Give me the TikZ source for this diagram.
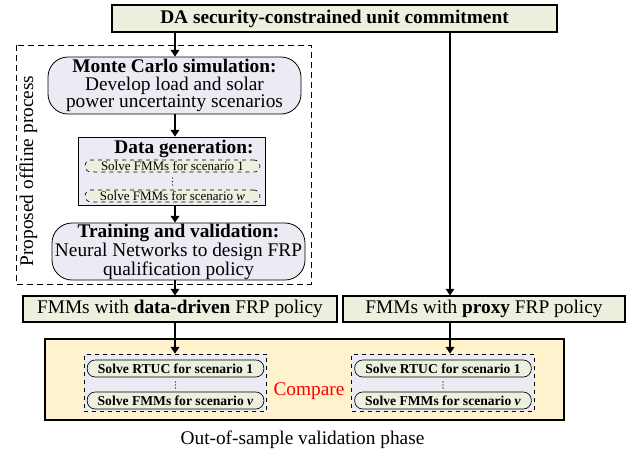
\documentclass[tikz,border=0pt]{standalone}
\usepackage{fontspec}
\setmainfont{Liberation Serif}
\usetikzlibrary{arrows.meta}
\definecolor{boxgreen}{HTML}{EBF1DE}
\definecolor{boxlav}{HTML}{ECEAF3}
\definecolor{boxorange}{HTML}{FFF2CC}

\begin{document}
\begin{tikzpicture}[x=0.75pt, y=-0.75pt, font=\fontsize{14.5}{13}\selectfont,
    greenbox/.style={draw, line width=0.8pt, fill=boxgreen, inner sep=0pt, minimum height=19.5pt},
    roundbox/.style={draw, line width=0.6pt, fill=boxlav, rounded corners=15pt, align=center,
        inner sep=0pt, minimum width=189.75pt, minimum height=42.75pt},
    scenbox/.style={draw, line width=0.5pt, fill=boxgreen, rounded corners=4.5pt, inner sep=0pt,
        minimum width=131.25pt, minimum height=9pt, font=\fontsize{9.75}{9}\selectfont},
    rtucbox/.style={draw, line width=0.5pt, fill=boxgreen, rounded corners=6pt, inner sep=0pt,
        minimum width=132.5pt, minimum height=12.75pt, font=\fontsize{10.2}{10}\selectfont\bfseries},
    setbox/.style={draw, dashed, line width=0.6pt, fill=boxlav, inner sep=0pt,
        minimum width=137pt, minimum height=42.75pt},
    flow/.style={line width=0.8pt, -{Triangle[width=6.5pt,length=5pt]}}]
    \useasboundingbox (0,0) rectangle (638,455);
    % day-ahead stage
    \node[greenbox, line width=1.1pt, minimum width=333.75pt, minimum height=20.25pt] (scuc) at (334.5,18.5)
        {\textbf{DA security-constrained unit commitment}};
    % offline process
    \draw[dashed, line width=0.7pt, dash pattern=on 4.5pt off 3pt] (16,45) rectangle (311,284);
    \node[rotate=90] (offline) at (28.5,171) {Proposed offline process};
    \node[roundbox] (mcs) at (174.5,85.5)
        {\textbf{Monte Carlo simulation:}\\Develop load and solar\\power uncertainty scenarios};
    \node[draw, line width=0.6pt, fill=boxlav, inner sep=0pt, minimum width=140.25pt, minimum height=51pt]
        (datagen) at (171.5,171) {};
    \node[inner sep=0pt] (datatitle) at (184,149) {\textbf{Data generation:}};
    \node[scenbox, dashed] (gen1) at (172.5,166) {Solve FMMs for scenario 1};
    \node[scenbox, dashed] (genw) at (172.5,196) {Solve FMMs for scenario \textit{w}};
    \foreach \dy in {-3.5,0,3.5} \fill (172.5,181.5+\dy) circle (0.55pt);
    \node[roundbox] (train) at (178.5,251.5)
        {\textbf{Training and validation:}\\Neural Networks to design FRP\\qualification policy};
    % policies
    \node[greenbox, minimum width=235.5pt] (ddpol) at (180,309) {FMMs with \textbf{data-driven} FRP policy};
    \node[greenbox, minimum width=211.5pt] (pxpol) at (484,309) {FMMs with \textbf{proxy} FRP policy};
    % out-of-sample validation
    \node[draw, line width=0.8pt, fill=boxorange, minimum width=389.25pt, minimum height=60.75pt]
        (oos) at (304.5,379.5) {};
    \node[setbox] (ddset) at (175.5,382.5) {};
    \node[rtucbox] (dd1) at (175.5,368.5) {Solve RTUC for scenario 1};
    \node[rtucbox] (ddv) at (175.5,400.5) {Solve FMMs for scenario \textit{v}};
    \node[setbox] (pxset) at (443,382.5) {};
    \node[rtucbox] (px1) at (443,368.5) {Solve RTUC for scenario 1};
    \node[rtucbox] (pxv) at (443,400.5) {Solve FMMs for scenario \textit{v}};
    \foreach \cx in {175.5,443} \foreach \dy in {-3,0,3} \fill (\cx,385+\dy) circle (0.55pt);
    \node[text=red, anchor=base, inner sep=0pt] (cmp) at (309,395) {Compare};
    \node[anchor=base, inner sep=0pt] (oostitle) at (302.5,444) {Out-of-sample validation phase};
    % connectors
    \coordinate (lane1) at (175,0);
    \coordinate (lane2) at (450,0);
    \draw[flow] (scuc.south -| lane1) -- (mcs.north -| lane1);
    \draw[flow] (mcs.south -| lane1) -- (datagen.north -| lane1);
    \draw[flow] (datagen.south -| lane1) -- (train.north -| lane1);
    \draw[flow] (train.south -| lane1) -- (ddpol.north -| lane1);
    \draw[flow] (ddpol.south -| lane1) -- (ddset.north -| lane1);
    \draw[flow] (scuc.south -| lane2) -- (pxpol.north -| lane2);
    \draw[flow] (pxpol.south -| lane2) -- (pxset.north -| lane2);
\end{tikzpicture}
\end{document}
